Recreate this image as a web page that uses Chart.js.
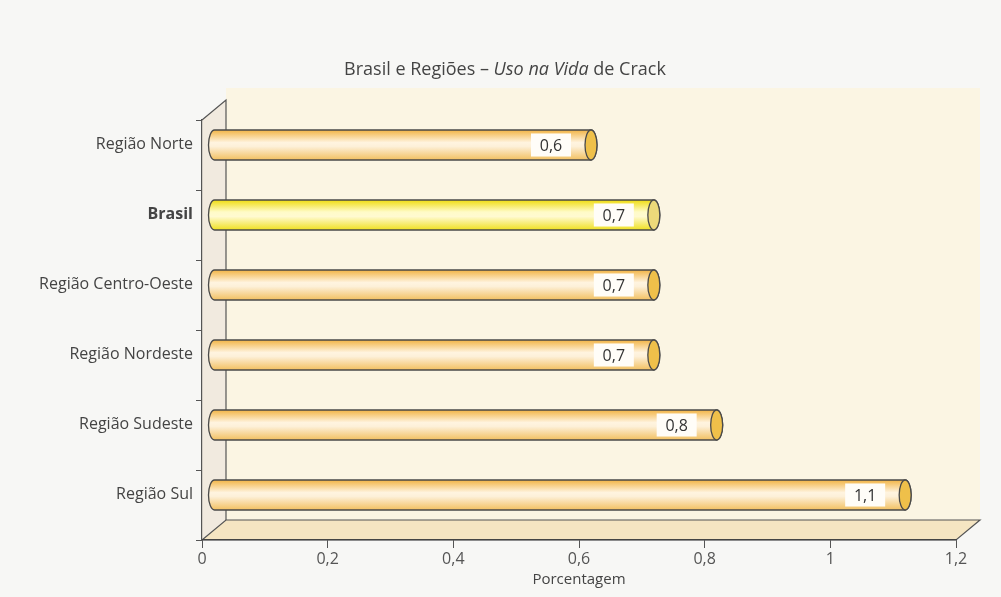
<!DOCTYPE html>
<html>
<head>
<meta charset="utf-8">
<script src="https://cdn.jsdelivr.net/npm/chart.js@4"></script>
<style>
  html, body { margin: 0; padding: 0; background: #f7f7f5; }
  #wrap { width: 1001px; height: 597px; }
</style>
</head>
<body>
<div id="wrap"><canvas id="chart" width="1001" height="597"></canvas></div>
<script>
// data
const categories = ["Região Norte", "Brasil", "Região Centro-Oeste", "Região Nordeste", "Região Sudeste", "Região Sul"];
const values = [0.6, 0.7, 0.7, 0.7, 0.8, 1.1];
const valueLabels = ["0,6", "0,7", "0,7", "0,7", "0,8", "1,1"];
const xTicks = [0, 0.2, 0.4, 0.6, 0.8, 1, 1.2];
const highlightIndex = 1; // Brasil

const FONT = "'Open Sans', 'Noto Sans', sans-serif";
const DEPTH_X = 24;
const DEPTH_Y = -20;

// 3D walls behind the bars
const wallsPlugin = {
  id: "walls",
  beforeDraw(chart) {
    const ctx = chart.ctx;
    const { left: L, right: R, top: T, bottom: B } = chart.chartArea;
    ctx.save();
    ctx.fillStyle = "#f7f7f5";
    ctx.fillRect(0, 0, chart.width, chart.height);

    // back wall
    ctx.fillStyle = "#fbf5e3";
    ctx.fillRect(L + DEPTH_X, 88, R - L, B + DEPTH_Y - 88);

    ctx.strokeStyle = "#555";
    ctx.lineWidth = 1.2;

    // left wall
    ctx.beginPath();
    ctx.moveTo(L, T);
    ctx.lineTo(L + DEPTH_X, T + DEPTH_Y);
    ctx.lineTo(L + DEPTH_X, B + DEPTH_Y);
    ctx.lineTo(L, B);
    ctx.closePath();
    ctx.fillStyle = "#f1eadf";
    ctx.fill();
    ctx.beginPath();
    ctx.moveTo(L, T);
    ctx.lineTo(L + DEPTH_X, T + DEPTH_Y);
    ctx.lineTo(L + DEPTH_X, B + DEPTH_Y);
    ctx.stroke();

    // floor
    ctx.beginPath();
    ctx.moveTo(L, B);
    ctx.lineTo(L + DEPTH_X, B + DEPTH_Y);
    ctx.lineTo(R + DEPTH_X, B + DEPTH_Y);
    ctx.lineTo(R, B);
    ctx.closePath();
    ctx.fillStyle = "#f5e5c2";
    ctx.fill();
    ctx.stroke();
    ctx.restore();
  }
};

// cylinders + value boxes, positioned from the bar elements
const cylinderPlugin = {
  id: "cylinders",
  afterDatasetsDraw(chart) {
    const ctx = chart.ctx;
    const meta = chart.getDatasetMeta(0);
    ctx.save();
    meta.data.forEach((bar, i) => {
      const xs = bar.base + DEPTH_X / 2;
      const xe = bar.x + DEPTH_X / 2;
      const yc = bar.y + DEPTH_Y / 2;
      const ry = bar.height / 2;
      const rx = 6;
      const hi = i === highlightIndex;

      const grad = ctx.createLinearGradient(0, yc - ry, 0, yc + ry);
      if (hi) {
        grad.addColorStop(0, "#efdc10");
        grad.addColorStop(0.4, "#fffbc8");
        grad.addColorStop(0.55, "#fffad0");
        grad.addColorStop(1, "#efe020");
      } else {
        grad.addColorStop(0, "#f2b445");
        grad.addColorStop(0.42, "#fff4e0");
        grad.addColorStop(0.55, "#fdf0d8");
        grad.addColorStop(1, "#f2c060");
      }

      ctx.beginPath();
      ctx.moveTo(xs, yc - ry);
      ctx.lineTo(xe, yc - ry);
      ctx.ellipse(xe, yc, rx, ry, 0, -Math.PI / 2, Math.PI / 2);
      ctx.lineTo(xs, yc + ry);
      ctx.ellipse(xs, yc, rx, ry, 0, Math.PI / 2, Math.PI * 1.5);
      ctx.closePath();
      ctx.fillStyle = grad;
      ctx.fill();
      ctx.strokeStyle = "#4a4a4a";
      ctx.lineWidth = 1.3;
      ctx.stroke();

      // end cap
      ctx.beginPath();
      ctx.ellipse(xe, yc, rx, ry, 0, 0, Math.PI * 2);
      ctx.fillStyle = hi ? "#ecd97a" : "#efc04a";
      ctx.fill();
      ctx.stroke();

      // value label in a white box
      const bw = 40, bh = 23;
      const bx = xe - 20 - bw;
      ctx.fillStyle = "#fffdf8";
      ctx.fillRect(bx, yc - bh / 2, bw, bh);
      ctx.fillStyle = "#333";
      ctx.font = "500 16px " + FONT;
      ctx.textAlign = "center";
      ctx.textBaseline = "middle";
      ctx.fillText(valueLabels[i], bx + bw / 2, yc + 1);
    });
    ctx.restore();
  }
};

// title with the italic part
const titlePlugin = {
  id: "mixedTitle",
  afterDraw(chart) {
    const ctx = chart.ctx;
    const parts = [
      { t: "Brasil e Regiões – ", f: "18px " + FONT },
      { t: "Uso na Vida", f: "italic 18px " + FONT },
      { t: " de Crack", f: "18px " + FONT }
    ];
    ctx.save();
    let total = 0;
    parts.forEach(p => { ctx.font = p.f; p.w = ctx.measureText(p.t).width; total += p.w; });
    let x = 505 - total / 2;
    ctx.fillStyle = "#444";
    ctx.textBaseline = "middle";
    ctx.textAlign = "left";
    parts.forEach(p => { ctx.font = p.f; ctx.fillText(p.t, x, 70); x += p.w; });
    ctx.restore();
  }
};

new Chart(document.getElementById("chart"), {
  type: "bar",
  data: {
    labels: categories,
    datasets: [{
      data: values,
      backgroundColor: "rgba(0,0,0,0)",
      borderWidth: 0,
      barThickness: 30
    }]
  },
  options: {
    indexAxis: "y",
    responsive: false,
    animation: false,
    layout: { padding: { top: 120, right: 45, left: 0, bottom: 0 } },
    plugins: {
      legend: { display: false },
      tooltip: { enabled: false }
    },
    scales: {
      x: {
        min: 0,
        max: 1.2,
        afterFit: (scale) => { scale.height = 57; },
        afterBuildTicks: (scale) => { scale.ticks = xTicks.map(v => ({ value: v })); },
        ticks: {
          color: "#555",
          font: { family: FONT, size: 16 },
          padding: 2,
          callback: (v) => String(v).replace(".", ",")
        },
        grid: { drawOnChartArea: false, tickLength: 8, color: "#555" },
        border: { display: true, color: "#444", width: 1.2 },
        title: {
          display: true,
          text: "Porcentagem",
          color: "#444",
          font: { family: FONT, size: 15 },
          padding: { top: 0, bottom: 8 }
        }
      },
      y: {
        afterFit: (scale) => { scale.width = 202; },
        ticks: {
          color: "#444",
          labelOffset: -11,
          padding: 3,
          font: (c) => ({ family: FONT, size: 16, weight: c.index === highlightIndex ? "bold" : "normal" })
        },
        grid: { drawOnChartArea: false, tickLength: 6, color: "#555", offset: true },
        border: { display: true, color: "#555", width: 1.2 }
      }
    }
  },
  plugins: [wallsPlugin, cylinderPlugin, titlePlugin]
});
</script>
</body>
</html>
